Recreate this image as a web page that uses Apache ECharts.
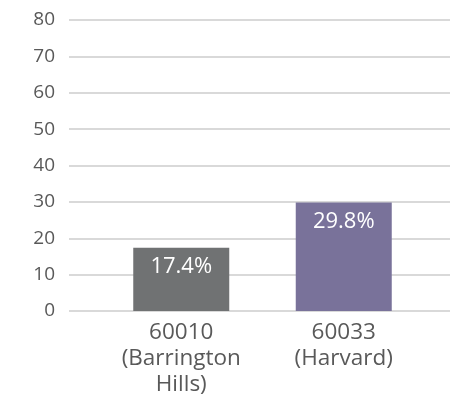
<!DOCTYPE html>
<html>
<head>
<meta charset="utf-8">
<script src="https://cdn.jsdelivr.net/npm/echarts@6/dist/echarts.min.js"></script>
<style>
  html, body { margin: 0; padding: 0; background: #fff; }
  #chart { width: 451px; height: 402px; }
</style>
</head>
<body>
<div id="chart"></div>
<script>
const categories = ["60010\n(Barrington\nHills)", "60033\n(Harvard)"]
const values = [17.4, 29.8]
const barColors = ["#707273", "#79729a"]
const yTicks = { min: 0, max: 80, interval: 10 }

const chart = echarts.init(document.getElementById("chart"), null, { renderer: "canvas" })
const font = "'Open Sans', 'Noto Sans', sans-serif"

// two grids: wide one for the gridlines, narrower one that holds the bars
chart.setOption({
  backgroundColor: "#fff",
  animation: false,
  grid: [
    { left: 69, right: 1, top: 20, bottom: 91 },
    { left: 100, width: 325, top: 20, bottom: 91 },
  ],
  xAxis: [
    { gridIndex: 0, type: "value", show: false },
    {
      gridIndex: 1,
      type: "category",
      data: categories,
      axisLine: { show: false },
      axisTick: { show: false },
      axisLabel: { color: "#595959", fontSize: 22.5, fontFamily: font, lineHeight: 26, margin: 9 },
    },
  ],
  yAxis: [
    {
      gridIndex: 0,
      type: "value",
      ...yTicks,
      axisLine: { show: false },
      axisTick: { show: false },
      axisLabel: { color: "#595959", fontSize: 19, fontFamily: font, margin: 14 },
      splitLine: { lineStyle: { color: "#d9d9d9", width: 2 } },
    },
    { gridIndex: 1, type: "value", ...yTicks, show: false, splitLine: { show: false } },
  ],
  series: [
    {
      type: "bar",
      xAxisIndex: 1,
      yAxisIndex: 1,
      barWidth: 96,
      data: values.map((v, i) => ({ value: v, itemStyle: { color: barColors[i] } })),
      label: {
        show: true,
        position: "insideTop",
        distance: 8,
        color: "#fff",
        fontSize: 22,
        fontWeight: 500,
        fontFamily: font,
        formatter: "{c}%",
      },
    },
  ],
})
</script>
</body>
</html>
